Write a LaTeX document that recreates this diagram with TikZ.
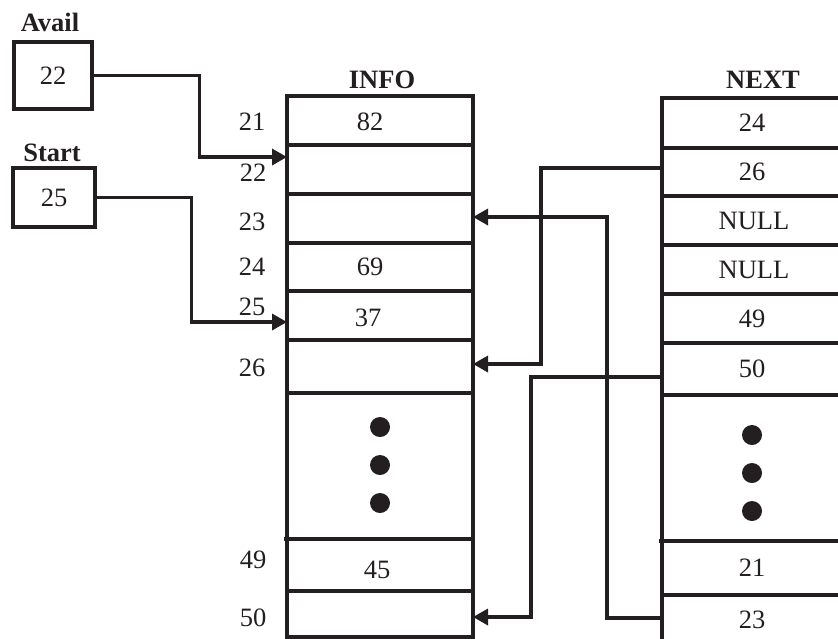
\documentclass[tikz,border=0pt]{standalone}
\usepackage{fontspec}
\setmainfont{Liberation Serif}
\usetikzlibrary{arrows.meta,calc}
\definecolor{ink}{RGB}{35,31,32}
\begin{document}
\begin{tikzpicture}[x=1pt,y=-1pt,
  every node/.style={text=ink, font=\fontsize{26.5}{31}\selectfont},
  cell/.style n args={2}{draw=none, inner sep=0pt, outer sep=0pt, minimum width=#1pt, minimum height=#2pt},
  val/.style={inner sep=0pt},
  head/.style={inner sep=0pt, font=\bfseries\fontsize{26.5}{31}\selectfont},
  ptrbox/.style n args={2}{draw=ink, line width=3.2pt, inner sep=0pt, minimum width=#1pt, minimum height=#2pt},
  outline/.style={draw=ink, line width=3.2pt},
  sep/.style={draw=ink, line width=4pt},
  conn/.style={draw=ink, line width=3.4pt, -{Triangle[length=15pt,width=16pt]}},
  dotmark/.style={fill=ink}
]
\useasboundingbox (0,0) rectangle (838,638);
\clip (0,0) rectangle (838,638);

% pointer boxes
\node[head] (availh) at (50,22) {Avail};
\node[ptrbox={78}{67}] (avail) at (53,75.5) {22};
\node[head] (starth) at (52,153) {Start};
\node[ptrbox={82}{59}] (start) at (54,197.5) {25};

% INFO column
\node[head] (infoh) at (382,80) {INFO};
\node[cell={186}{49}] (i21) at (380,120.5) {};
\node[cell={186}{49}] (i22) at (380,169.5) {};
\node[cell={186}{49}] (i23) at (380,218.5) {};
\node[cell={186}{48}] (i24) at (380,267) {};
\node[cell={186}{49}] (i25) at (380,315.5) {};
\node[cell={186}{53}] (i26) at (380,366.5) {};
\node[cell={186}{146}] (idots) at (380,466) {};
\node[cell={186}{52}] (i49) at (380,565) {};
\node[cell={186}{46}] (i50) at (380,614) {};

\node[val] (v21) at ([xshift=-10pt,yshift=-1.5pt]i21.center) {82};
\node[val] (v24) at ([xshift=-10pt]i24.center) {69};
\node[val] (v25) at ([xshift=-12pt,yshift=-2pt]i25.center) {37};
\node[val] (v49) at ([xshift=-3pt,yshift=-5pt]i49.center) {45};

\draw[outline] (i21.north west) rectangle (i50.south east);
\foreach \c in {i21,i22,i23,i24,i25,i26,i49}
  \draw[sep] (\c.south west) -- (\c.south east);
\draw[sep] ([xshift=-3pt]idots.south west) -- (idots.south east);

\fill[dotmark] ([yshift=39pt]idots.center) circle (10pt);
\fill[dotmark] ([yshift=1pt]idots.center) circle (10pt);
\fill[dotmark] ([yshift=-37pt]idots.center) circle (10pt);

% address labels
\node[val] (a21) at (252,122) {21};
\node[val] (a22) at (253,173) {22};
\node[val] (a23) at (252,222) {23};
\node[val] (a24) at (252,267) {24};
\node[val] (a25) at (252,307) {25};
\node[val] (a26) at (252,368) {26};
\node[val] (a49) at (253,560) {49};
\node[val] (a50) at (253,618) {50};

% NEXT column
\node[head] (nexth) at (763,80) {NEXT};
\node[cell={180}{50}] (n21) at (752,123) {24};
\node[cell={180}{48}] (n22) at (752,172) {26};
\node[cell={180}{49}] (n23) at (754,220.5) {NULL};
\node[cell={180}{49}] (n24) at (754,269.5) {NULL};
\node[cell={180}{49}] (n25) at (752,318.5) {49};
\node[cell={180}{52}] (n26) at (752,369) {50};
\node[cell={180}{146}] (ndots) at (752,468) {};
\node[cell={180}{54}] (n49) at (752,568) {\raisebox{-4pt}{21}};
\node[cell={180}{50}] (n50) at (752,620) {23};

\draw[outline] (n50.south west) -- (n21.north west) -- (n21.north east) -- (n50.south east);
\foreach \c in {n21,n22,n23,n24,n25,n26,n49}
  \draw[sep] (\c.south west) -- (\c.south east);
\draw[sep] ([xshift=-3pt]ndots.south west) -- (ndots.south east);

\fill[dotmark] ([yshift=33pt]ndots.center) circle (10pt);
\fill[dotmark] ([yshift=-5pt]ndots.center) circle (10pt);
\fill[dotmark] ([yshift=-43pt]ndots.center) circle (10pt);

% connectors
\draw[conn] (avail.east) -- ++(106,0) |- ([yshift=12.5pt]i22.west);
\draw[conn] (start.east) -- ++(95,0) |- ([yshift=-6.5pt]i25.west);
\draw[conn] ([yshift=4pt]n22.west) -- ++(-121,0) |- ([yshift=2.5pt]i26.east);
\draw[conn] ([yshift=2pt]n50.west) -- ++(-55,0) |- ([yshift=1.5pt]i23.east);
\draw[conn] ([yshift=-8pt]n26.west) -- ++(-131,0) |- ([yshift=-3pt]i50.east);
\end{tikzpicture}
\end{document}
